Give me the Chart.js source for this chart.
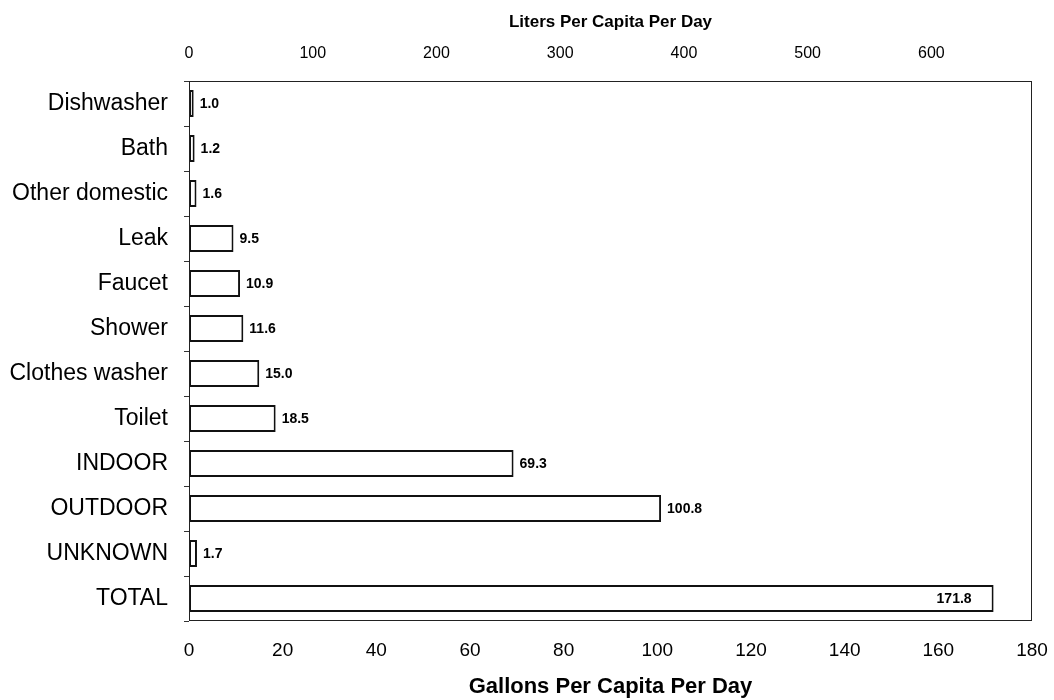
<!DOCTYPE html>
<html>
<head>
<meta charset="utf-8">
<title>Water use per capita</title>
<script src="https://cdn.jsdelivr.net/npm/chart.js@4/dist/chart.umd.min.js"></script>
<style>
  html, body { margin: 0; padding: 0; background: #fff; }
  #wrap { width: 1054px; height: 700px; position: relative; }
</style>
</head>
<body>
<div id="wrap"><canvas id="chart"></canvas></div>
<script>
// Data
const categories = ['Dishwasher', 'Bath', 'Other domestic', 'Leak', 'Faucet', 'Shower',
    'Clothes washer', 'Toilet', 'INDOOR', 'OUTDOOR', 'UNKNOWN', 'TOTAL'];
const gallonsPerDay = [1.0, 1.2, 1.6, 9.5, 10.9, 11.6, 15.0, 18.5, 69.3, 100.8, 1.7, 171.8];

// Axis setup
const gallonMax = 180;
const gallonStep = 20;
const literStep = 100;
const LITERS_PER_GALLON = 3.785;

const FONT = '"Liberation Sans", Arial, Helvetica, sans-serif';

// Box around the plot area
const frameBox = {
    id: 'frameBox',
    afterDraw(chart) {
        const { ctx, chartArea } = chart;
        ctx.save();
        ctx.strokeStyle = '#222';
        ctx.lineWidth = 1;
        ctx.strokeRect(chartArea.left + 0.5, chartArea.top + 0.5,
            chartArea.right - chartArea.left - 1, chartArea.bottom - chartArea.top - 1);
        ctx.restore();
    }
};

// Value labels at the end of each bar
const valueLabels = {
    id: 'valueLabels',
    afterDatasetsDraw(chart) {
        const { ctx, chartArea } = chart;
        const meta = chart.getDatasetMeta(0);
        ctx.save();
        ctx.font = 'bold 14px ' + FONT;
        ctx.fillStyle = '#000';
        ctx.textBaseline = 'middle';
        meta.data.forEach((bar, i) => {
            const text = gallonsPerDay[i].toFixed(1);
            const w = ctx.measureText(text).width;
            if (bar.x + 7 + w > chartArea.right - 4) {
                // no room outside: put it inside the bar
                ctx.textAlign = 'right';
                ctx.fillText(text, bar.x - 22, bar.y + 1);
            } else {
                ctx.textAlign = 'left';
                ctx.fillText(text, bar.x + 6, bar.y + 1);
            }
        });
        ctx.restore();
    }
};

// keep the plot width fixed, the end labels may hang over
function fixHeight(h) {
    return function (scale) {
        scale.height = h;
        scale.paddingLeft = 0;
        scale.paddingRight = 0;
    };
}

const ctx = document.getElementById('chart').getContext('2d');
new Chart(ctx, {
    type: 'bar',
    data: {
        labels: categories,
        datasets: [{
            data: gallonsPerDay,
            backgroundColor: '#fff',
            borderColor: '#111',
            borderWidth: 2,
            borderSkipped: false,
            categoryPercentage: 0.6,
            barPercentage: 1.0,
            xAxisID: 'x',
            yAxisID: 'y'
        }]
    },
    options: {
        indexAxis: 'y',
        responsive: true,
        maintainAspectRatio: false,
        animation: false,
        devicePixelRatio: 1,
        layout: { padding: { left: 0, right: 22, top: 0, bottom: 0 } },
        plugins: {
            legend: { display: false },
            tooltip: { enabled: false }
        },
        scales: {
            y: {
                type: 'category',
                position: 'left',
                grid: {
                    display: true,
                    drawOnChartArea: false,
                    drawTicks: true,
                    tickLength: 5,
                    offset: true,
                    color: '#333'
                },
                border: { display: false },
                ticks: {
                    color: '#000',
                    padding: 16,
                    font: { family: FONT, size: 23 }
                },
                afterFit(scale) { scale.width = 189; }
            },
            x: {
                type: 'linear',
                position: 'bottom',
                min: 0,
                max: gallonMax,
                grid: { display: false, drawTicks: false },
                border: { display: false },
                ticks: {
                    stepSize: gallonStep,
                    color: '#000',
                    padding: 18,
                    font: { family: FONT, size: 19 }
                },
                title: {
                    display: true,
                    text: 'Gallons Per Capita Per Day',
                    color: '#000',
                    padding: { top: 0, bottom: 0 },
                    font: { family: FONT, size: 22, weight: 'bold' }
                },
                afterFit: fixHeight(79)
            },
            x2: {
                type: 'linear',
                position: 'top',
                min: 0,
                max: gallonMax * LITERS_PER_GALLON,
                grid: { display: false, drawTicks: false },
                border: { display: false },
                ticks: {
                    stepSize: literStep,
                    includeBounds: false,
                    color: '#000',
                    padding: 18,
                    font: { family: FONT, size: 16 }
                },
                title: {
                    display: true,
                    text: 'Liters Per Capita Per Day',
                    color: '#000',
                    padding: { top: 12, bottom: 0 },
                    font: { family: FONT, size: 17, weight: 'bold' }
                },
                afterFit: fixHeight(81)
            }
        }
    },
    plugins: [frameBox, valueLabels]
});
</script>
</body>
</html>
